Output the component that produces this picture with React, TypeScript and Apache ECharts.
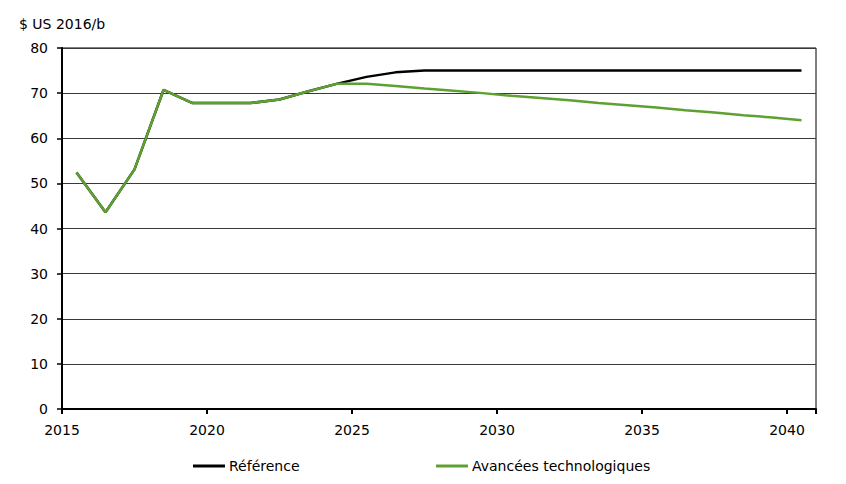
import { useEffect, useRef } from "react";
import * as echarts from "echarts";

// Annual oil price, $ US 2016/b
const years = [
  2015, 2016, 2017, 2018, 2019, 2020, 2021, 2022, 2023, 2024, 2025, 2026, 2027,
  2028, 2029, 2030, 2031, 2032, 2033, 2034, 2035, 2036, 2037, 2038, 2039, 2040,
];
const reference = [
  52.4, 43.6, 53.1, 70.7, 67.8, 67.8, 67.8, 68.6, 70.4, 72.1, 73.6, 74.6, 75,
  75, 75, 75, 75, 75, 75, 75, 75, 75, 75, 75, 75, 75,
];
const technology = [
  52.4, 43.6, 53.1, 70.7, 67.8, 67.8, 67.8, 68.6, 70.4, 72.1, 72.1, 71.6, 71.0,
  70.5, 70.0, 69.4, 68.9, 68.4, 67.8, 67.3, 66.8, 66.2, 65.7, 65.1, 64.6, 64.0,
];
const seriesNames = ["Référence", "Avancées technologiques"];
const yTitle = "$ US 2016/b";

const FONT = "DejaVu Sans";

// points sit in the middle of each year band
const toPoints = (vals: number[]) => years.map((y, i) => [y + 0.5, vals[i]]);

const legendBase = {
  top: 459,
  padding: 0,
  icon: "rect",
  itemWidth: 32,
  itemHeight: 3,
  textStyle: { fontFamily: FONT, fontSize: 14, color: "#000", padding: [0, 0, 0, -1] },
};

export default function App() {
  const ref = useRef<HTMLDivElement>(null);

  useEffect(() => {
    if (!ref.current) return;
    const chart = echarts.init(ref.current, undefined, { renderer: "svg" });

    chart.setOption({
      animation: false,
      textStyle: { fontFamily: FONT },
      grid: {
        left: 62,
        right: 30,
        top: 48,
        bottom: 75,
        show: true,
        borderColor: "#000",
        borderWidth: 1,
      },
      graphic: [
        {
          type: "text",
          left: 19,
          top: 17,
          style: {
            text: yTitle,
            fontFamily: FONT,
            fontSize: 14,
            fill: "#000",
          },
        },
      ],
      legend: [
        { ...legendBase, data: [seriesNames[0]], left: 193 },
        { ...legendBase, data: [seriesNames[1]], left: 436 },
      ],
      xAxis: {
        type: "value",
        min: 2015,
        max: 2041,
        interval: 5,
        axisLine: { show: true, onZero: false, lineStyle: { color: "#000", width: 2 } },
        axisTick: { show: true, length: 5, lineStyle: { color: "#000", width: 2 } },
        axisLabel: {
          margin: 14,
          fontFamily: FONT,
          fontSize: 14,
          color: "#000",
          formatter: (v: number) => (v % 5 === 0 && v <= 2040 ? String(v) : ""),
        },
        splitLine: { show: false },
      },
      yAxis: {
        type: "value",
        min: 0,
        max: 80,
        interval: 10,
        axisLine: { show: true, lineStyle: { color: "#000", width: 2 } },
        axisTick: { show: true, length: 5, lineStyle: { color: "#000", width: 1.5 } },
        axisLabel: {
          margin: 14,
          fontFamily: FONT,
          fontSize: 14,
          color: "#000",
        },
        splitLine: { show: true, lineStyle: { color: "#3a3a3a", width: 1 } },
      },
      series: [
        {
          name: seriesNames[0],
          type: "line",
          data: toPoints(reference),
          symbol: "none",
          lineStyle: { color: "#000", width: 2.5 },
          itemStyle: { color: "#000" },
        },
        {
          name: seriesNames[1],
          type: "line",
          data: toPoints(technology),
          symbol: "none",
          lineStyle: { color: "#5fa032", width: 2.5 },
          itemStyle: { color: "#5fa032" },
        },
      ],
    });

    return () => chart.dispose();
  }, []);

  return (
    <div
      ref={ref}
      style={{ position: "fixed", left: 0, top: 0, width: 846, height: 484, background: "#fff" }}
    />
  );
}
